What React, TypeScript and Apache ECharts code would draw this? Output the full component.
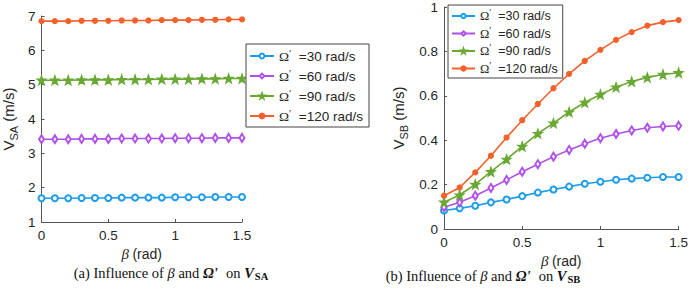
import React, { useEffect, useRef } from "react";
import * as echarts from "echarts";

const beta = [0, 0.1, 0.2, 0.3, 0.4, 0.5, 0.6, 0.7, 0.8, 0.9, 1.0, 1.1, 1.2, 1.3, 1.4, 1.5];
const speeds = ["30", "60", "90", "120"];

// (a) V_SA
const vsa30 = [1.69, 1.69, 1.69, 1.7, 1.7, 1.7, 1.71, 1.71, 1.71, 1.71, 1.72, 1.72, 1.72, 1.73, 1.73, 1.73];
const vsa60 = [3.41, 3.41, 3.41, 3.42, 3.42, 3.42, 3.43, 3.43, 3.43, 3.43, 3.44, 3.44, 3.44, 3.45, 3.45, 3.45];
const vsa90 = [5.13, 5.13, 5.13, 5.14, 5.14, 5.14, 5.15, 5.15, 5.15, 5.16, 5.16, 5.16, 5.17, 5.17, 5.18, 5.18];
const vsa120 = [6.85, 6.85, 6.85, 6.86, 6.86, 6.86, 6.87, 6.87, 6.87, 6.88, 6.88, 6.88, 6.89, 6.89, 6.9, 6.9];

// (b) V_SB
const vsb30 = [0.083, 0.093, 0.105, 0.12, 0.133, 0.148, 0.164, 0.178, 0.191, 0.204, 0.213, 0.222, 0.227, 0.231, 0.234, 0.234];
const vsb60 = [0.098, 0.12, 0.15, 0.185, 0.221, 0.258, 0.292, 0.326, 0.356, 0.384, 0.409, 0.428, 0.444, 0.456, 0.462, 0.465];
const vsb90 = [0.121, 0.153, 0.201, 0.258, 0.314, 0.372, 0.43, 0.477, 0.527, 0.57, 0.606, 0.639, 0.664, 0.683, 0.696, 0.704];
const vsb120 = [0.15, 0.187, 0.255, 0.33, 0.412, 0.49, 0.563, 0.634, 0.699, 0.757, 0.807, 0.852, 0.887, 0.916, 0.932, 0.941];

const colors = ["#1c9cea", "#b050ea", "#6aa834", "#f4612b"];
const STAR = "path://M0,-10L2.35,-3.24L9.51,-3.09L3.8,1.24L5.88,8.09L0,4L-5.88,8.09L-3.8,1.24L-9.51,-3.09L-2.35,-3.24Z";
const symbols = ["emptyCircle", "emptyDiamond", STAR, "circle"];
const symbolSizes: any[] = [6, [5, 8], 9, 5];

const SANS = "Liberation Sans";
const SERIF = "Liberation Serif";
const TXT = "#262626";
const AX = "#555";

function makeSeries(name: string, i: number, data: number[], idx: number) {
  return {
    type: "line",
    name,
    xAxisIndex: idx,
    yAxisIndex: idx,
    data: beta.map((b, k) => [b, data[k]]),
    symbol: symbols[i],
    symbolSize: symbolSizes[i],
    showSymbol: true,
    lineStyle: { color: colors[i], width: 1.6 },
    itemStyle: { color: colors[i], borderColor: colors[i], borderWidth: 1.2 },
    emphasis: { disabled: true },
  };
}

function legendRich(fs: number, lh: number) {
  return {
    o: { fontFamily: SERIF, fontSize: fs, lineHeight: lh, color: TXT, verticalAlign: "middle" },
    p: { fontFamily: SERIF, fontSize: fs - 3, lineHeight: lh, color: TXT, verticalAlign: "top" },
    t: { fontFamily: SANS, fontSize: fs, lineHeight: lh, color: TXT, verticalAlign: "middle" },
  };
}

function xAxisCfg(idx: number, gap: number) {
  return {
    type: "value",
    gridIndex: idx,
    min: 0,
    max: 1.5,
    interval: 0.5,
    axisLine: { show: true, lineStyle: { color: AX, width: 1 } },
    axisTick: { show: true, inside: true, length: 3, lineStyle: { color: AX } },
    axisLabel: { color: TXT, fontFamily: SANS, fontSize: 13.5, margin: 6 },
    splitLine: { show: false },
    name: "{b|β} {r|(rad)}",
    nameLocation: "middle",
    nameGap: gap,
    nameTextStyle: {
      rich: {
        b: { fontFamily: SERIF, fontStyle: "italic", fontSize: 15, lineHeight: 16, color: TXT },
        r: { fontFamily: SANS, fontSize: 14, lineHeight: 16, color: TXT },
      },
    },
  };
}

function yAxisCfg(idx: number, min: number, max: number, interval: number, sub: string, gap: number) {
  return {
    type: "value",
    gridIndex: idx,
    min,
    max,
    interval,
    axisLine: { show: true, lineStyle: { color: AX, width: 1 } },
    axisTick: { show: true, inside: true, length: 3, lineStyle: { color: AX } },
    axisLabel: { color: TXT, fontFamily: SANS, fontSize: 13.5, margin: 6 },
    splitLine: { show: false },
    name: `{v|V}{s|${sub}}{n| (m/s)}`,
    nameLocation: "middle",
    nameRotate: 90,
    nameGap: gap,
    nameTextStyle: {
      rich: {
        v: { fontFamily: SANS, fontSize: 15, lineHeight: 22, color: TXT, verticalAlign: "middle" },
        s: { fontFamily: SANS, fontSize: 11, lineHeight: 22, color: TXT, verticalAlign: "bottom" },
        n: { fontFamily: SANS, fontSize: 15, lineHeight: 22, color: TXT, verticalAlign: "middle" },
      },
    },
  };
}

function caption(x: number, y: number, label: string, sub: string) {
  return {
    type: "text",
    x,
    y,
    style: {
      text: `{t|${label} Influence of }{i|β}{t| and }{bi|Ω'}{t|  on }{bi|V}{sb|${sub}}`,
      align: "center",
      verticalAlign: "middle",
      rich: {
        t: { fontFamily: SERIF, fontSize: 14.5, lineHeight: 17, fill: "#111", verticalAlign: "middle" },
        i: { fontFamily: SERIF, fontSize: 14.5, lineHeight: 17, fontStyle: "italic", fill: "#111", verticalAlign: "middle" },
        bi: { fontFamily: SERIF, fontSize: 14.5, lineHeight: 17, fontStyle: "italic", fontWeight: "bold", fill: "#111", verticalAlign: "middle", padding: [0, 1, 0, 0] },
        sb: { fontFamily: SERIF, fontSize: 10.5, lineHeight: 17, fontWeight: "bold", fill: "#111", verticalAlign: "bottom" },
      },
    },
  };
}

export default function App() {
  const ref = useRef<HTMLDivElement>(null);
  useEffect(() => {
    if (!ref.current) return;
    const chart = echarts.init(ref.current, null, { renderer: "svg" });
    const names = speeds.map((s) => s);
    const fmt = (name: string) => `{o|Ω}{p|′}{t|  =${name} rad/s}`;
    const option: any = {
      animation: false,
      backgroundColor: "#fff",
      grid: [
        { left: 36, top: 16, width: 206, height: 206, containLabel: false },
        { left: 444, top: 4, width: 239, height: 225, containLabel: false },
      ],
      xAxis: [xAxisCfg(0, 20), xAxisCfg(1, 19)],
      yAxis: [yAxisCfg(0, 1, 7, 1, "SA", 22), yAxisCfg(1, 0, 1, 0.2, "SB", 35)],
      legend: [
        {
          data: names,
          orient: "vertical",
          left: 246,
          top: 44,
          itemWidth: 24,
          itemHeight: 6,
          itemGap: 5,
          padding: [4, 6, 4, 3],
          backgroundColor: "#fff",
          borderColor: "#444",
          borderWidth: 1,
          selectedMode: false,
          formatter: fmt,
          textStyle: { rich: legendRich(13.5, 16) },
        },
        {
          data: names,
          orient: "vertical",
          left: 448,
          top: 5,
          itemWidth: 23,
          itemHeight: 5.5,
          itemGap: 3,
          padding: [3, 5, 3, 3],
          backgroundColor: "#fff",
          borderColor: "#444",
          borderWidth: 1,
          selectedMode: false,
          formatter: fmt,
          textStyle: { rich: legendRich(12.5, 16) },
        },
      ],
      series: [
        makeSeries(names[0], 0, vsa30, 0),
        makeSeries(names[1], 1, vsa60, 0),
        makeSeries(names[2], 2, vsa90, 0),
        makeSeries(names[3], 3, vsa120, 0),
        makeSeries(names[0], 0, vsb30, 1),
        makeSeries(names[1], 1, vsb60, 1),
        makeSeries(names[2], 2, vsb90, 1),
        makeSeries(names[3], 3, vsb120, 1),
      ],
      graphic: [caption(171, 273, "(a)", "SA"), caption(483, 276, "(b)", "SB")],
    };
    chart.setOption(option);
    return () => chart.dispose();
  }, []);
  return (
    <div
      ref={ref}
      style={{ position: "fixed", left: 0, top: 0, width: 691, height: 289, background: "#fff" }}
    />
  );
}
